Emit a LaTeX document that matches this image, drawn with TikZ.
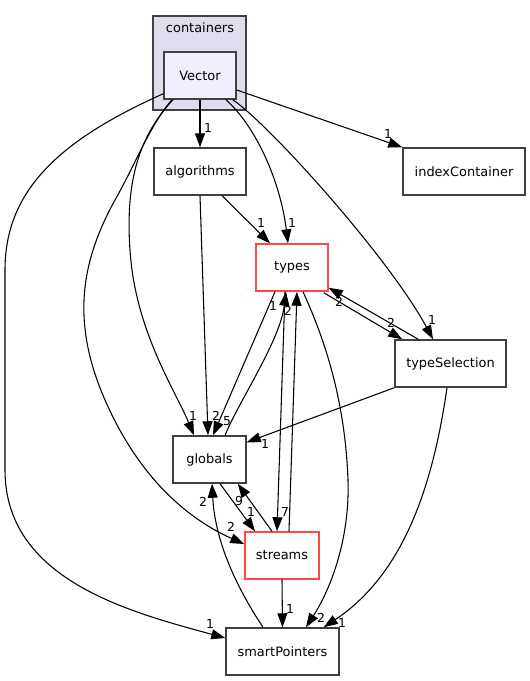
\documentclass[tikz,border=0pt]{standalone}
\usepackage{fontspec}
\setmainfont{DejaVu Sans}
\usetikzlibrary{arrows.meta,calc}
\definecolor{clusterfill}{HTML}{DDDDEE}
\definecolor{vecfill}{HTML}{EEEEFF}
\definecolor{bordergray}{HTML}{404040}
\definecolor{redborder}{HTML}{FF4848}
\begin{document}
\begin{tikzpicture}[x=0.75pt,y=-0.75pt,
  box/.style={draw=bordergray, line width=1.1pt, fill=white, inner sep=0pt,
    minimum height=35.25pt, font=\fontsize{9.7pt}{11pt}\selectfont, text=black},
  redbox/.style={box, draw=redborder},
  edge/.style={draw=black, line width=0.8pt, -{Triangle[length=10.5pt,width=7.5pt]}},
  lbl/.style={font=\fontsize{9.3pt}{10pt}\selectfont, inner sep=0pt, text=black}]
\useasboundingbox (0,0) rectangle (530,681);
% cluster
\node[draw=bordergray, fill=clusterfill, line width=1.1pt, minimum width=69.75pt, minimum height=70.5pt, inner sep=0pt] (cluster) at (199.5,63) {};
\node[lbl, font=\fontsize{9.7pt}{11pt}\selectfont] (clusterlabel) at (200,28) {containers};
% nodes
\node[box, fill=vecfill, minimum width=54pt] (Vector) at (200,75.5) {Vector};
\node[box, minimum width=69pt] (algorithms) at (200,171.5) {algorithms};
\node[box, minimum width=91.5pt] (indexContainer) at (464,171.5) {indexContainer};
\node[redbox, minimum width=54pt] (types) at (292,267.5) {types};
\node[box, minimum width=83.25pt] (typeSelection) at (450.5,363.5) {typeSelection};
\node[box, minimum width=54.75pt] (globals) at (209.5,459.5) {globals};
\node[redbox, minimum width=55.5pt] (streams) at (282,555.5) {streams};
\node[box, minimum width=84.75pt] (smartPointers) at (282.5,651.5) {smartPointers};
% edges
\draw[edge] (Vector.south) -- (algorithms.north);
\draw[edge] ($(Vector.east)+(0,14.5)$) -- (indexContainer.north west);
\draw[edge] ($(Vector.south)+(26,0)$) .. controls +(29,26) and +(-8,-64) .. ($(types.north)+(-4,0)$);
\draw[edge] ($(Vector.south east)+(-4,0)$) .. controls +(38,26) and +(-43,-80) .. ($(typeSelection.north)+(-17.5,0)$);
\draw[edge] ($(Vector.south)+(-27,0)$) .. controls (140,135) and (125,180) .. (130,250)
   .. controls (135,330) and (175,390) .. ($(globals.north)+(-15.5,0)$);
\draw[edge] ($(Vector.south)+(-28,0)$) .. controls (150,125) and (135,165) .. (115,200)
   .. controls (82,260) and (70,320) .. (105,400)
   .. controls (140,480) and (190,520) .. ($(streams.west)+(0,-11.5)$);
\draw[edge] ($(Vector.south west)+(0,-6)$) .. controls (60,140) and (5,190) .. (5,270)
   -- (5,470) .. controls (5,580) and (130,612) .. ($(smartPointers.west)+(0,-13.5)$);
\draw[edge] (algorithms.south) -- ($(globals.north)+(-1.5,0)$);
\draw[edge] ($(algorithms.south)+(22,0)$) -- ($(types.north)+(-22,0)$);
\draw[edge] ($(types.south)+(-17,0)$) -- ($(globals.north)+(3.5,0)$);
\draw[edge] ($(globals.north)+(15.5,0)$) .. controls +(15,-36) and +(-6,49) .. ($(types.south)+(-6,0)$);
\draw[edge] ($(types.south)+(-7,0)$) -- ($(streams.north)+(-5,0)$);
\draw[edge] ($(streams.north)+(7,0)$) -- ($(types.south)+(5,0)$);
\draw[edge] ($(types.south)+(11,0)$) .. controls (325,340) and (345,400) .. (348,480)
   .. controls (350,540) and (330,590) .. ($(smartPointers.north)+(23.5,0)$);
\draw[edge] ($(types.south east)+(-5,1)$) -- ($(typeSelection.north west)+(8,0)$);
\draw[edge] ($(typeSelection.north west)+(24,0)$) -- ($(types.south east)+(0,-4)$);
\draw[edge] (typeSelection.south west) -- ($(globals.north east)+(0,7)$);
\draw[edge] ($(typeSelection.south)+(-3.5,0)$) .. controls (435,470) and (410,570) .. ($(smartPointers.north east)+(-16,0)$);
\draw[edge] (streams.south) -- (smartPointers.north);
\draw[edge] ($(smartPointers.north)+(-19.5,0)$) .. controls (235,585) and (215,540) .. ($(globals.south)+(2.5,0)$);
\draw[edge] ($(globals.south)+(10.5,0)$) -- ($(streams.north)+(-27,0)$);
\draw[edge] ($(streams.north)+(-10,0)$) -- ($(globals.south east)+(-9,0)$);
% labels
\node[lbl] (l1) at (208,128) {1};
\node[lbl] (l2) at (388,134) {1};
\node[lbl] (l3) at (292,223) {1};
\node[lbl] (l4) at (261,223) {1};
\node[lbl] (l5) at (432,320) {1};
\node[lbl] (l6) at (391,323) {2};
\node[lbl] (l7) at (339,302) {2};
\node[lbl] (l8) at (193,416) {1};
\node[lbl] (l9) at (216,416) {2};
\node[lbl] (l10) at (227,421) {5};
\node[lbl] (l11) at (273,306) {1};
\node[lbl] (l12) at (288,311) {2};
\node[lbl] (l13) at (265,444) {1};
\node[lbl] (l14) at (203,502) {2};
\node[lbl] (l15) at (239,501) {9};
\node[lbl] (l16) at (251,512) {1};
\node[lbl] (l17) at (285,512) {7};
\node[lbl] (l18) at (231,527) {2};
\node[lbl] (l19) at (290,609) {1};
\node[lbl] (l20) at (321,618) {2};
\node[lbl] (l21) at (342,623) {1};
\node[lbl] (l22) at (210,624) {1};
\end{tikzpicture}
\end{document}
